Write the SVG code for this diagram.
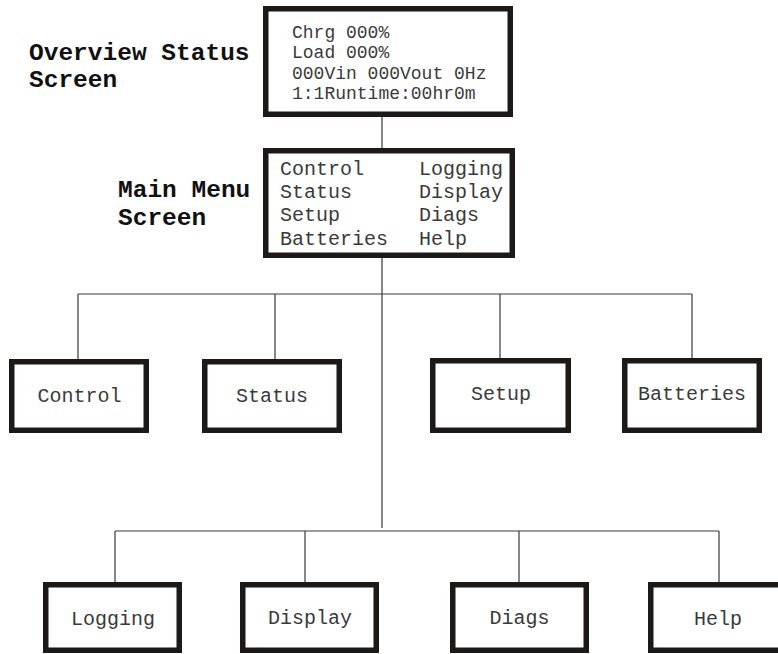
<svg xmlns="http://www.w3.org/2000/svg" width="778" height="654" viewBox="0 0 778 654">
<style>
.box{fill:#fff;stroke:#1c1916;stroke-width:5.5}
.conn{fill:none;stroke:#3a3a3a;stroke-width:1.2}
.lbl{font-family:"Courier New","Liberation Mono",monospace;font-weight:bold;font-size:24.5px;fill:#111}
.scr{font-family:"Courier New","Liberation Mono",monospace;font-size:20px;fill:#3a3a3a}
.ov{font-family:"Courier New","Liberation Mono",monospace;font-size:18px;fill:#3a3a3a}
.ch{font-family:"Courier New","Liberation Mono",monospace;font-size:20px;fill:#3a3a3a;text-anchor:middle}
</style>
<rect width="778" height="654" fill="#fff"/>
<g id="connectors">
<path class="conn" d="M382 117V148M382 258V528M78 294H692M78 294V359M275 294V359M500 294V358M692 294V358M115 531H719M115 531V582M305 531V582M519 531V582M719 531V582"/>
</g>
<g id="labels">
<text class="lbl" x="29" y="60">Overview Status</text>
<text class="lbl" x="29" y="87">Screen</text>
<text class="lbl" x="118" y="197">Main Menu</text>
<text class="lbl" x="118" y="225">Screen</text>
</g>
<g id="overview">
<rect class="box" x="265.75" y="8.75" width="244.5" height="105.5"/>
<text class="ov" x="292" y="37.5">Chrg 000%</text>
<text class="ov" x="292" y="58">Load 000%</text>
<text class="ov" x="292" y="78.5">000Vin 000Vout 0Hz</text>
<text class="ov" x="292" y="99">1:1Runtime:00hr0m</text>
</g>
<g id="mainmenu">
<rect class="box" x="265.75" y="150.75" width="246.5" height="104.5"/>
<text class="scr" x="280" y="175">Control</text>
<text class="scr" x="280" y="198">Status</text>
<text class="scr" x="280" y="221">Setup</text>
<text class="scr" x="280" y="245">Batteries</text>
<text class="scr" x="419" y="175">Logging</text>
<text class="scr" x="419" y="198">Display</text>
<text class="scr" x="419" y="221">Diags</text>
<text class="scr" x="419" y="245">Help</text>
</g>
<g id="control"><rect class="box" x="11.75" y="361.75" width="134.5" height="68.5"/><text class="ch" x="79.5" y="402">Control</text></g>
<g id="status"><rect class="box" x="204.75" y="361.75" width="134.5" height="68.5"/><text class="ch" x="272" y="402">Status</text></g>
<g id="setup"><rect class="box" x="432.75" y="360.75" width="135.5" height="69.5"/><text class="ch" x="501" y="400">Setup</text></g>
<g id="batteries"><rect class="box" x="624.75" y="360.75" width="134.5" height="69.5"/><text class="ch" x="692" y="400">Batteries</text></g>
<g id="logging"><rect class="box" x="45.75" y="584.75" width="133.5" height="65.5"/><text class="ch" x="113" y="625">Logging</text></g>
<g id="display"><rect class="box" x="242.75" y="584.75" width="133.5" height="65.5"/><text class="ch" x="310" y="624">Display</text></g>
<g id="diags"><rect class="box" x="452.75" y="584.75" width="133.5" height="65.5"/><text class="ch" x="519.5" y="624">Diags</text></g>
<g id="help"><rect class="box" x="650.75" y="584.75" width="134.5" height="65.5"/><text class="ch" x="718" y="625">Help</text></g>
</svg>
